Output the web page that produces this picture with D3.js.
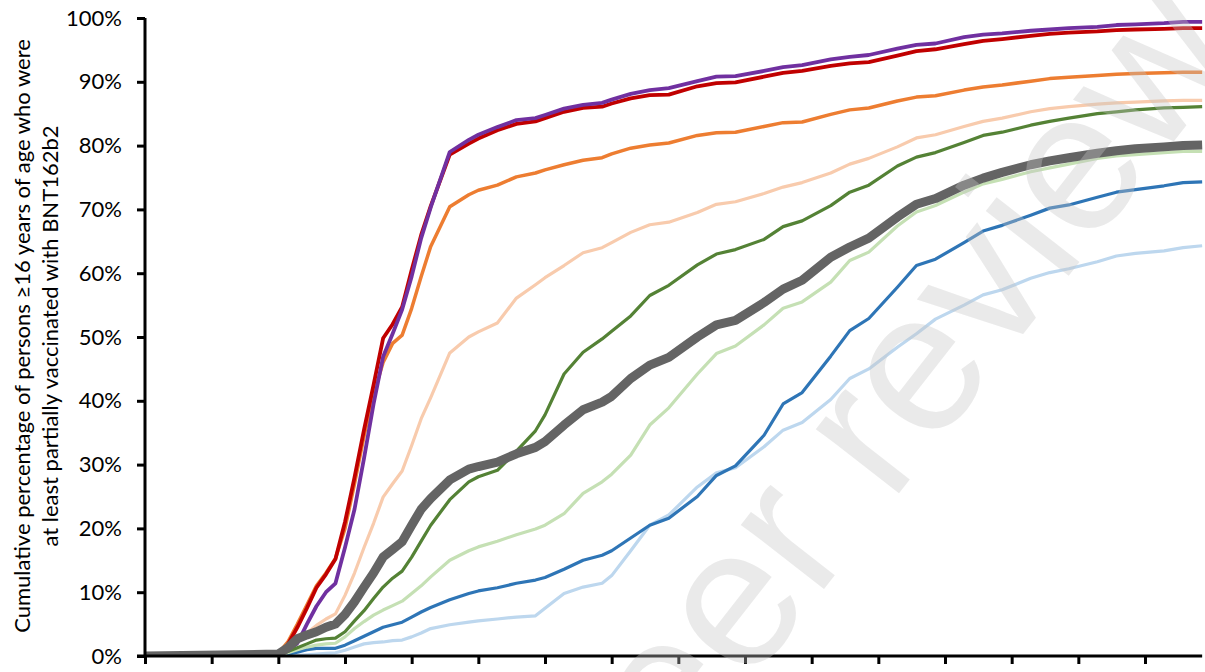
<!DOCTYPE html>
<html><head><meta charset="utf-8">
<script src="https://cdn.jsdelivr.net/npm/d3@7"></script>
<style>html,body{margin:0;padding:0;background:#fff;overflow:hidden}</style>
</head><body>
<svg id="chart" width="1205" height="672"></svg>
<script>
// Day index since start (x axis, ticks weekly)
const days = [0,14,15,16,17,18,19,20,21,22,23,24,25,26,27,28,29,30,32,34,35,37,39,41,42,44,46,48,49,51,53,55,58,60,62,65,67,69,72,74,76,79,81,83,86,88,90,93,95,97,100,102,104,107,109,111];
const tickDays = [0,7,14,21,28,35,42,49,56,63,70,77,84,91,98,105];
const yTicks = [0,10,20,30,40,50,60,70,80,90,100];

const lightBlue = [0,0,0,0.1,0.2,0.3,0.4,0.5,0.9,1.4,1.9,2.1,2.2,2.4,2.5,3.0,3.6,4.3,4.9,5.3,5.5,5.8,6.1,6.3,7.5,9.8,10.8,11.4,12.6,16.5,20.5,22.1,26.5,28.7,29.5,32.8,35.4,36.6,40.2,43.5,45.0,48.4,50.5,52.8,55.0,56.6,57.4,59.2,60.1,60.7,61.8,62.7,63.1,63.5,64.0,64.3];
const blue = [0,0.05,0.3,0.6,1.0,1.2,1.2,1.2,1.7,2.4,3.1,3.8,4.5,4.9,5.3,6.1,6.9,7.6,8.8,9.8,10.2,10.7,11.4,11.9,12.3,13.6,15.0,15.8,16.5,18.5,20.5,21.6,25,28.3,29.8,34.6,39.5,41.3,47.0,51.0,52.9,57.8,61.2,62.2,64.8,66.6,67.5,69.1,70.2,70.7,71.9,72.7,73.1,73.7,74.2,74.3];
const lightGreen = [0,0.1,0.5,1.0,1.4,1.7,1.9,2.0,3.0,4.3,5.4,6.4,7.2,7.9,8.6,9.8,11.0,12.4,15.0,16.5,17.1,18.0,19.0,19.9,20.5,22.3,25.5,27.3,28.5,31.5,36.2,38.9,44.2,47.4,48.6,51.9,54.5,55.5,58.6,62.0,63.3,67.4,69.6,70.6,72.7,74.0,74.7,75.9,76.5,77.1,78.0,78.4,78.6,78.9,79.1,79.1];
const peach = [0,0.2,0.8,2.3,3.6,4.8,5.8,6.6,9.5,13,17,20.8,24.9,27,29,33,37.2,40.5,47.5,50,50.8,52.2,56.1,58.2,59.3,61.2,63.2,64,64.8,66.4,67.6,68.0,69.5,70.8,71.2,72.5,73.5,74.2,75.7,77.1,78.0,79.8,81.2,81.7,83.0,83.8,84.3,85.3,85.8,86.1,86.5,86.7,86.8,87.0,87.1,87.1];
const orange = [0,0.4,2.2,5,8,11,13,15.3,20,27,34.5,41,46,49,50.3,54.5,59.5,64.2,70.4,72.3,73,73.8,75.1,75.7,76.2,77,77.7,78.1,78.7,79.6,80.1,80.4,81.6,82.0,82.1,83.0,83.6,83.7,84.9,85.6,85.9,87.0,87.6,87.8,88.7,89.2,89.5,90.1,90.5,90.7,91.0,91.2,91.3,91.4,91.5,91.5];
const red = [0,0.3,1.8,4.5,7.5,10.7,12.8,15.2,21,28,35.5,42.5,49.8,52,54.7,60.5,66,70.5,78.6,80.3,81.1,82.4,83.4,83.8,84.3,85.3,85.9,86.1,86.6,87.4,87.9,88.0,89.3,89.8,89.9,90.8,91.4,91.7,92.5,92.9,93.1,94.1,94.8,95.1,95.9,96.4,96.7,97.2,97.5,97.7,97.9,98.1,98.2,98.3,98.4,98.4];
const purple = [0,0.2,0.8,2,5,7.8,10,11.4,17,23,31,39.5,46.9,50.5,54.3,59.5,65.5,70.3,79,80.9,81.7,82.9,84,84.3,84.8,85.8,86.4,86.7,87.2,88.1,88.7,89.0,90.1,90.8,90.9,91.7,92.3,92.6,93.5,93.9,94.2,95.2,95.8,96.0,97.0,97.4,97.6,98.0,98.2,98.4,98.6,98.9,99.0,99.2,99.4,99.4];
const green = [0,0.2,0.7,1.3,1.9,2.5,2.7,2.8,3.8,5.5,7.1,9,10.8,12.2,13.3,15.5,18,20.5,24.5,27.3,28.1,29.1,32.1,35.3,37.8,44.2,47.6,49.7,50.9,53.3,56.5,58.1,61.3,63,63.7,65.3,67.3,68.2,70.6,72.7,73.8,76.8,78.2,78.9,80.5,81.6,82.1,83.2,83.8,84.3,85.0,85.3,85.6,85.9,86.0,86.1];
const overall = [0,0.3,1.3,2.7,3.3,3.8,4.5,5.0,6.5,8.5,10.8,13,15.5,16.7,17.9,20.5,23,24.7,27.6,29.3,29.7,30.4,31.7,32.7,33.6,36.2,38.6,39.8,40.7,43.5,45.6,46.8,50,51.9,52.6,55.4,57.5,58.9,62.5,64.1,65.5,68.8,70.8,71.7,73.8,74.9,75.8,77.0,77.6,78.1,78.8,79.2,79.5,79.8,80.0,80.1];

const yTitle1 = "Cumulative percentage of persons \u226516 years of age who were";
const yTitle2 = "at least partially vaccinated with BNT162b2";
const watermark = "Peer review";

// drawing order: bottom to top
const series = [
  {values: lightBlue, color: "#BDD7EE", w: 3.2},
  {values: blue, color: "#2E75B6", w: 3.2},
  {values: lightGreen, color: "#C5E0B4", w: 3.2},
  {values: peach, color: "#F8CBAD", w: 3.2},
  {values: orange, color: "#ED7D31", w: 3.5},
  {values: red, color: "#C00000", w: 3.8},
  {values: purple, color: "#7030A0", w: 3.8},
  {values: green, color: "#548235", w: 3.2},
  {values: overall, color: "#646464", w: 9}
];

const svg = d3.select("#chart");
const x0 = 145, yBase = 656, yTop = 18;
const x = d3.scaleLinear().domain([0, 111]).range([x0, x0 + 111 * (200/21)]);
const y = d3.scaleLinear().domain([0, 100]).range([yBase, yTop]);

svg.append("defs").append("clipPath").attr("id","plotclip")
  .append("rect").attr("x", x0).attr("y", 0).attr("width", 1205 - x0).attr("height", yBase);

const line = d3.line().x((d,i) => x(days[i])).y(d => y(d));
const g = svg.append("g").attr("clip-path","url(#plotclip)");
series.forEach(s => {
  g.append("path").datum(s.values)
    .attr("d", line)
    .attr("fill","none")
    .attr("stroke", s.color)
    .attr("stroke-width", s.w)
    .attr("stroke-linejoin","round")
    .attr("stroke-linecap","butt");
});

// Y axis
const yAxis = d3.axisLeft(y).tickValues(yTicks).tickFormat(d => d + "%").tickSize(8).tickPadding(15);
const ya = svg.append("g").attr("transform", `translate(${x0},0)`).call(yAxis);
ya.select(".domain").attr("stroke","#000").attr("stroke-width",3).attr("d", `M0,${yTop}V${yBase}`);
ya.selectAll(".tick line").attr("stroke","#000").attr("stroke-width",3);
ya.selectAll(".tick text").attr("font-family","Lato, 'Open Sans', sans-serif").attr("font-size",22).attr("fill","#000");

// X axis
const xAxis = d3.axisBottom(x).tickValues(tickDays).tickFormat("").tickSize(8);
const xa = svg.append("g").attr("transform", `translate(0,${yBase})`).call(xAxis);
xa.select(".domain").attr("stroke","#000").attr("stroke-width",3).attr("d", `M${x0-8},0H${x(111)}`);
xa.selectAll(".tick line").attr("stroke","#000").attr("stroke-width",3);

// Y title
const yt = svg.append("text")
  .attr("transform", `translate(30,336) rotate(-90)`)
  .attr("text-anchor","middle")
  .attr("font-family","Lato, 'Open Sans', sans-serif")
  .attr("font-size",22).attr("fill","#000");
yt.append("tspan").attr("x",0).attr("y",0).text(yTitle1);
yt.append("tspan").attr("x",0).attr("y",28).text(yTitle2);

// Watermark
svg.append("text")
  .attr("transform","translate(921,465) rotate(-52)")
  .attr("text-anchor","middle")
  .attr("font-family","'Liberation Sans', Arial, sans-serif")
  .attr("font-size",199)
  .attr("fill","#c4c4c4").attr("fill-opacity",0.36)
  .text(watermark);
</script>
</body></html>
